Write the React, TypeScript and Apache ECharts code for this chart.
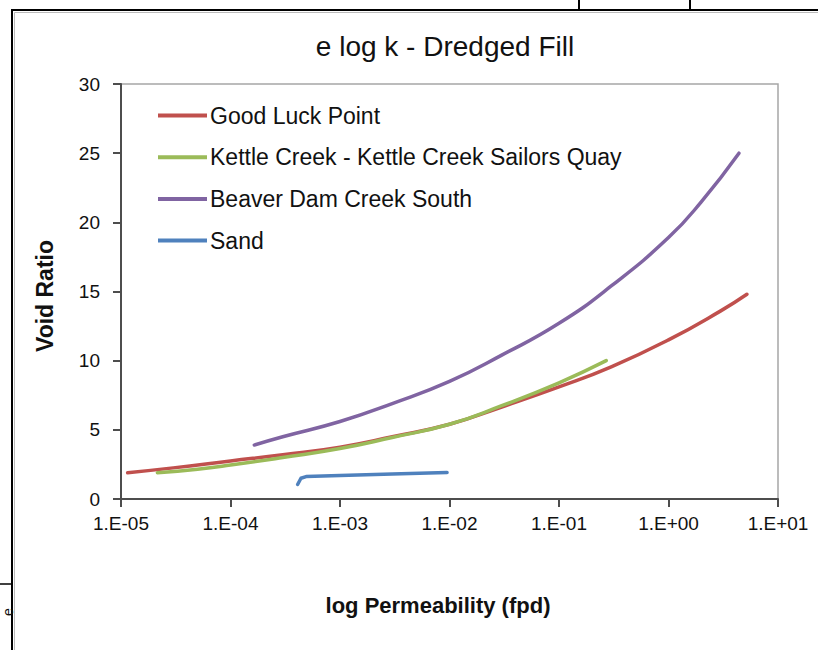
import React, { useEffect, useRef } from "react";
import * as echarts from "echarts";

const TITLE = "e log k - Dredged Fill";
const X_NAME = "log Permeability (fpd)";
const Y_NAME = "Void Ratio";

const SERIES_NAMES = [
  "Good Luck Point",
  "Kettle Creek - Kettle Creek Sailors Quay",
  "Beaver Dam Creek South",
  "Sand",
];
const SERIES_COLORS = ["#C0504D", "#9BBB59", "#8064A2", "#4F81BD"];

// permeability (fpd) and void ratio
const goodLuckK = [1.15e-5, 3e-5, 1e-4, 3e-4, 1e-3, 3e-3, 1e-2, 3e-2, 1e-1, 3e-1, 1, 3, 5.2];
const goodLuckE = [1.9, 2.25, 2.75, 3.2, 3.75, 4.5, 5.4, 6.65, 8.1, 9.55, 11.5, 13.6, 14.8];

const kettleK = [2.15e-5, 5e-5, 1e-4, 3e-4, 1e-3, 3e-3, 1e-2, 3e-2, 1e-1, 0.27];
const kettleE = [1.9, 2.15, 2.45, 3.0, 3.65, 4.45, 5.4, 6.75, 8.4, 10.0];

const beaverK = [1.65e-4, 3e-4, 1e-3, 3e-3, 1e-2, 3e-2, 1e-1, 3e-1, 1, 2, 4.4];
const beaverE = [3.9, 4.5, 5.6, 6.9, 8.5, 10.4, 12.7, 15.4, 18.9, 21.5, 25.0];

const sandK = [4.1e-4, 4.4e-4, 4.9e-4, 1e-3, 3e-3, 9.5e-3];
const sandE = [1.05, 1.5, 1.62, 1.7, 1.8, 1.92];

const X_MIN = 1e-5;
const X_MAX = 10;
const Y_MIN = 0;
const Y_MAX = 30;
const Y_STEP = 5;

function zip(a: number[], b: number[]) {
  return a.map((v, i) => [v, b[i]]);
}

function fmtExp(v: number) {
  const e = Math.round(Math.log10(v));
  const sign = e < 0 ? "-" : "+";
  const abs = Math.abs(e);
  return "1.E" + sign + (abs < 10 ? "0" + abs : String(abs));
}

export default function App() {
  const ref = useRef<HTMLDivElement>(null);
  useEffect(() => {
    if (!ref.current) return;
    const chart = echarts.init(ref.current, null, { renderer: "svg" });
    const font = "Liberation Sans, Arial, sans-serif";
    const datasets = [
      zip(goodLuckK, goodLuckE),
      zip(kettleK, kettleE),
      zip(beaverK, beaverE),
      zip(sandK, sandE),
    ];
    chart.setOption({
      animation: false,
      backgroundColor: "#ffffff",
      grid: { left: 121, top: 84, right: 40, bottom: 151, show: true, borderColor: "#a6a6a6", borderWidth: 1.5 },
      legend: {
        show: true,
        orient: "vertical",
        left: 158,
        top: 104,
        padding: 0,
        icon: "rect",
        itemWidth: 49,
        itemHeight: 4,
        itemGap: 18.7,
        textStyle: { fontFamily: font, fontSize: 23, color: "#111", lineHeight: 23, padding: [0, 0, 0, -2] },
        data: SERIES_NAMES,
      },
      xAxis: {
        type: "log",
        logBase: 10,
        min: X_MIN,
        max: X_MAX,
        axisLine: { show: true, lineStyle: { color: "#4d4d4d", width: 2 } },
        axisTick: { show: true, length: 8, lineStyle: { color: "#4d4d4d", width: 2 } },
        minorTick: { show: false },
        splitLine: { show: false },
        axisLabel: {
          formatter: (v: number) => fmtExp(v),
          fontFamily: font,
          fontSize: 19,
          color: "#111",
          margin: 15,
        },
      },
      yAxis: {
        type: "value",
        min: Y_MIN,
        max: Y_MAX,
        interval: Y_STEP,
        axisLine: { show: true, lineStyle: { color: "#4d4d4d", width: 2 } },
        axisTick: { show: true, length: 8, lineStyle: { color: "#4d4d4d", width: 2 } },
        splitLine: { show: false },
        axisLabel: { fontFamily: font, fontSize: 19, color: "#111", margin: 21 },
      },
      series: datasets.map((d, i) => ({
        name: SERIES_NAMES[i],
        type: "line",
        data: d,
        smooth: i === 3 ? false : true,
        showSymbol: false,
        symbol: "none",
        color: SERIES_COLORS[i],
        lineStyle: { color: SERIES_COLORS[i], width: 3.5, cap: "round", join: "round" },
      })),
      graphic: [
        { type: "rect", shape: { x: 12, y: 10, width: 900, height: 700 }, style: { fill: "none", stroke: "#000", lineWidth: 2 }, silent: true },
        { type: "rect", shape: { x: 14.5, y: 12.5, width: 900, height: 700 }, style: { fill: "none", stroke: "#bbb", lineWidth: 1 }, silent: true },
        { type: "line", shape: { x1: 579, y1: 0, x2: 579, y2: 10 }, style: { stroke: "#000", lineWidth: 2 } },
        { type: "line", shape: { x1: 690, y1: 0, x2: 690, y2: 10 }, style: { stroke: "#000", lineWidth: 2 } },
        { type: "line", shape: { x1: 0, y1: 584, x2: 12, y2: 584 }, style: { stroke: "#000", lineWidth: 1.5 } },
        { type: "text", x: 8, y: 612, rotation: Math.PI / 2, style: { text: "e", font: "14px " + font, fill: "#111", textAlign: "center", textVerticalAlign: "middle" } },
        { type: "text", x: 445, y: 46, style: { text: TITLE, font: "28px " + font, fill: "#111", textAlign: "center", textVerticalAlign: "middle" } },
        { type: "text", x: 438, y: 605, style: { text: X_NAME, font: "bold 22px " + font, fill: "#111", textAlign: "center", textVerticalAlign: "middle" } },
        { type: "text", x: 45, y: 296, rotation: Math.PI / 2, style: { text: Y_NAME, font: "bold 23px " + font, fill: "#111", textAlign: "center", textVerticalAlign: "middle" } },
      ],
    });
    return () => chart.dispose();
  }, []);
  return <div ref={ref} style={{ position: "absolute", left: 0, top: 0, width: 818, height: 650 }} />;
}
